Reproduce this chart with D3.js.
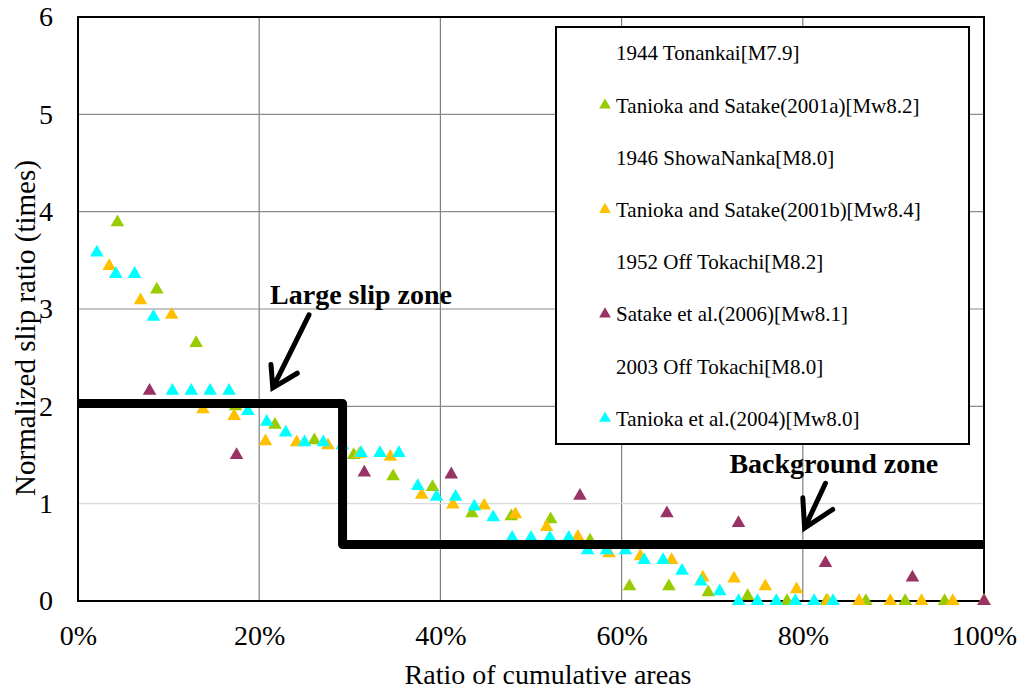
<!DOCTYPE html>
<html><head><meta charset="UTF-8"><script src="https://cdnjs.cloudflare.com/ajax/libs/d3/7.8.5/d3.min.js"></script></head>
<body style="margin:0">
<script>
// x = ratio of cumulative areas (%), y = normalized slip ratio
var tanioka2001a = [[4.35,3.89],[8.70,3.20],[13.04,2.65],[17.39,2.00],[21.74,1.81],[26.09,1.65],
  [30.43,1.50],[34.78,1.28],[39.13,1.17],[43.48,0.90],[47.83,0.87],[52.17,0.84],[56.52,0.62],
  [60.87,0.15],[65.22,0.15],[69.57,0.09],[73.91,0.05],[78.26,0],[82.61,0],[86.96,0],[91.30,0],
  [95.65,0],[100,0]];
var tanioka2001b = [[3.45,3.44],[6.90,3.09],[10.34,2.94],[13.79,1.97],[17.24,1.90],[20.69,1.64],
  [24.14,1.63],[27.59,1.60],[31.03,1.51],[34.48,1.48],[37.93,1.09],[41.38,0.99],[44.83,0.98],
  [48.28,0.89],[51.72,0.76],[55.17,0.66],[58.62,0.49],[62.07,0.46],[65.52,0.42],[68.97,0.24],
  [72.41,0.23],[75.86,0.15],[79.31,0.12],[82.76,0],[86.21,0],[89.66,0],[93.10,0],[96.55,0],[100,0]];
var satake2006 = [[7.9,2.16],[17.5,1.50],[31.6,1.32],[41.2,1.30],[55.4,1.08],[65.0,0.90],
  [72.9,0.80],[82.5,0.39],[92.1,0.24],[100,0]];
var tanioka2004 = [[2.08,3.58],[4.17,3.36],[6.25,3.36],[8.33,2.92],[10.42,2.16],[12.50,2.16],
  [14.58,2.16],[16.67,2.16],[18.75,1.95],[20.83,1.84],[22.92,1.73],[25.00,1.63],[27.08,1.63],
  [29.17,1.60],[31.25,1.52],[33.33,1.52],[35.42,1.52],[37.50,1.18],[39.58,1.07],[41.67,1.07],
  [43.75,0.97],[45.83,0.86],[47.92,0.65],[50.00,0.65],[52.08,0.65],[54.17,0.65],[56.25,0.52],
  [58.33,0.52],[60.42,0.52],[62.50,0.42],[64.58,0.42],[66.67,0.31],[68.75,0.20],[70.83,0.10],
  [72.92,0],[75.00,0],[77.08,0],[79.17,0],[81.25,0],[83.33,0]];

var stepLine = [[0,2.03],[29.2,2.03],[29.2,0.58],[100,0.58]];

var legendNames = ["1944 Tonankai[M7.9]", "Tanioka and Satake(2001a)[Mw8.2]",
  "1946 ShowaNanka[M8.0]", "Tanioka and Satake(2001b)[Mw8.4]",
  "1952 Off Tokachi[M8.2]", "Satake et al.(2006)[Mw8.1]",
  "2003 Off Tokachi[M8.0]", "Tanioka et al.(2004)[Mw8.0]"];
var legendColors = [null, "#99cc00", null, "#ffc000", null, "#993366", null, "#00ffff"];

var xTicks = [0, 20, 40, 60, 80, 100];
var yTicks = [0, 1, 2, 3, 4, 5, 6];

// annotations, in data units: label position, arrow tail, tip, barbs
var notes = [
  {text: "Large slip zone", at: [21.2, 3.05], tail: [25.5, 2.94], tip: [21.5, 2.19], barbs: [[21.3, 2.43], [24.2, 2.34]]},
  {text: "Background zone", at: [71.9, 1.32], tail: [82.5, 1.21], tip: [80.2, 0.75], barbs: [[80.0, 1.06], [83.3, 0.94]]}
];

var series = [
  {data: tanioka2001a, color: legendColors[1]},
  {data: tanioka2001b, color: legendColors[3]},
  {data: satake2006, color: legendColors[5]},
  {data: tanioka2004, color: legendColors[7]}
];

var fontName = "Liberation Serif";

var W = 1022, H = 691;
var margin = {top: 17, right: 38, bottom: 90, left: 78};
var width = W - margin.left - margin.right;
var height = H - margin.top - margin.bottom;

var svg = d3.select("body").append("svg")
    .attr("width", W)
    .attr("height", H);

var g = svg.append("g")
    .attr("transform", "translate(" + margin.left + "," + margin.top + ")");

var x = d3.scaleLinear().domain([0, 100]).range([0, width]);
var y = d3.scaleLinear().domain([0, 6]).range([height, 0]);

// grid
g.selectAll(".vgrid")
  .data(xTicks.slice(1, -1))
  .enter().append("line")
    .attr("x1", function(d) { return x(d); })
    .attr("x2", function(d) { return x(d); })
    .attr("y1", 0).attr("y2", height)
    .attr("stroke", "#7f7f7f").attr("stroke-width", 1.2);

g.selectAll(".hgrid")
  .data(yTicks.slice(1, -1))
  .enter().append("line")
    .attr("x1", 0).attr("x2", width)
    .attr("y1", function(d) { return y(d); })
    .attr("y2", function(d) { return y(d); })
    .attr("stroke", function(d) { return d === 1 ? "#d9d9d9" : "#8c8c8c"; })
    .attr("stroke-width", 1.2);

// axes
var xAxis = d3.axisBottom(x).tickValues(xTicks).tickSize(0).tickPadding(24)
    .tickFormat(function(d) { return d + "%"; });
var yAxis = d3.axisLeft(y).tickValues(yTicks).tickSize(0).tickPadding(25)
    .tickFormat(d3.format("d"));

g.append("g")
    .attr("transform", "translate(0," + height + ")")
    .call(xAxis)
    .attr("font-family", fontName)
    .attr("font-size", 28)
    .call(function(a) { a.select(".domain").remove(); })
    .selectAll("text")
    .attr("fill", "#000");

g.append("g")
    .call(yAxis)
    .attr("font-family", fontName)
    .attr("font-size", 28)
    .call(function(a) { a.select(".domain").remove(); })
    .selectAll("text")
    .attr("fill", "#000");

// frame
g.append("rect")
    .attr("width", width).attr("height", height)
    .attr("fill", "none").attr("stroke", "#000").attr("stroke-width", 2);

// points
var tri = d3.symbol().type(d3.symbolTriangle).size(80);
series.forEach(function(s) {
  g.append("g").selectAll("path")
    .data(s.data)
    .enter().append("path")
      .attr("d", tri)
      .attr("transform", function(d) { return "translate(" + x(d[0]) + "," + y(d[1]) + ")"; })
      .attr("fill", s.color);
});

// step line
g.append("path")
    .datum(stepLine)
    .attr("d", d3.line().x(function(d) { return x(d[0]); }).y(function(d) { return y(d[1]); }))
    .attr("fill", "none")
    .attr("stroke", "#000")
    .attr("stroke-width", 9)
    .attr("stroke-linejoin", "round");

// legend
var lg = svg.append("g").attr("transform", "translate(556,27)");
lg.append("rect")
    .attr("width", 413).attr("height", 417)
    .attr("fill", "#fff").attr("stroke", "#000").attr("stroke-width", 2);

var items = lg.selectAll(".item")
  .data(legendNames)
  .enter().append("g")
    .attr("transform", function(d, i) { return "translate(0," + (26 + i * 52.2) + ")"; });

items.filter(function(d, i) { return legendColors[i]; })
  .append("path")
    .attr("d", d3.symbol().type(d3.symbolTriangle).size(60))
    .attr("transform", "translate(49,0)")
    .attr("fill", function(d) { return legendColors[legendNames.indexOf(d)]; });

items.append("text")
    .attr("x", 60)
    .attr("dy", "0.35em")
    .style("font-family", fontName)
    .style("font-size", "21px")
    .text(function(d) { return d; });

// annotations
notes.forEach(function(n) {
  g.append("text")
      .attr("x", x(n.at[0])).attr("y", y(n.at[1]))
      .style("font-family", fontName)
      .style("font-size", "28px")
      .style("font-weight", "bold")
      .text(n.text);
  var p = d3.path();
  p.moveTo(x(n.tail[0]), y(n.tail[1]));
  p.lineTo(x(n.tip[0]), y(n.tip[1]));
  p.moveTo(x(n.barbs[0][0]), y(n.barbs[0][1]));
  p.lineTo(x(n.tip[0]), y(n.tip[1]));
  p.lineTo(x(n.barbs[1][0]), y(n.barbs[1][1]));
  g.append("path")
      .attr("d", p.toString())
      .attr("fill", "none")
      .attr("stroke", "#000")
      .attr("stroke-width", 5)
      .attr("stroke-linecap", "round")
      .attr("stroke-linejoin", "miter");
});

// axis titles
svg.append("text")
    .attr("x", 548)
    .attr("y", 684)
    .attr("text-anchor", "middle")
    .style("font-family", fontName)
    .style("font-size", "28px")
    .text("Ratio of cumulative areas");

svg.append("text")
    .attr("transform", "translate(35,328) rotate(-90)")
    .attr("text-anchor", "middle")
    .style("font-family", fontName)
    .style("font-size", "29px")
    .text("Normalized slip ratio (times)");
</script>
</body>
</html>
